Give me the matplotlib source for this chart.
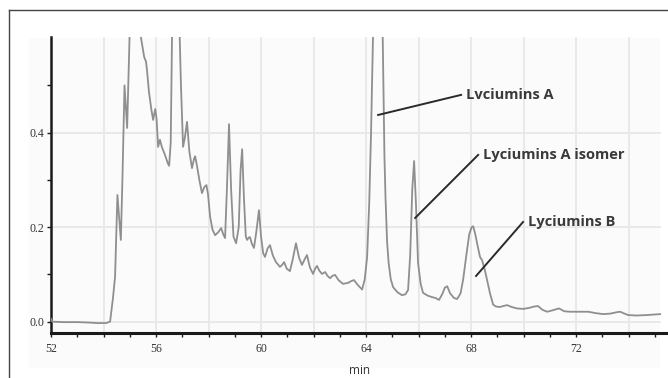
import matplotlib
matplotlib.use("Agg")
import matplotlib.pyplot as plt
from matplotlib.patches import Rectangle
from matplotlib.ticker import MultipleLocator, FixedLocator

# retention time (min) and detector response
rt = [52.0, 52.05, 52.5, 53.0, 53.5, 53.75, 54.1, 54.25, 54.36, 54.44,
      54.53, 54.66, 54.72, 54.8, 54.9, 55.0, 55.2, 55.43, 55.55, 55.62,
      55.66, 55.73, 55.82, 55.89, 55.97, 56.02, 56.08, 56.15, 56.22, 56.34,
      56.45, 56.5, 56.56, 56.62, 56.75, 56.88, 56.95, 57.03, 57.1, 57.18,
      57.27, 57.37, 57.45, 57.49, 57.56, 57.65, 57.75, 57.84, 57.92, 57.98,
      58.06, 58.15, 58.25, 58.38, 58.48, 58.56, 58.63, 58.7, 58.78, 58.86,
      58.95, 59.05, 59.15, 59.22, 59.28, 59.35, 59.42, 59.47, 59.53, 59.58,
      59.65, 59.73, 59.82, 59.92, 60.0, 60.08, 60.15, 60.25, 60.34, 60.45,
      60.57, 60.72, 60.8, 60.88, 60.98, 61.1, 61.2, 61.33, 61.45, 61.56,
      61.66, 61.75, 61.86, 61.98, 62.06, 62.13, 62.22, 62.32, 62.44, 62.53,
      62.63, 62.72, 62.82, 62.95, 63.12, 63.31, 63.44, 63.54, 63.68, 63.85,
      63.95, 64.04, 64.12, 64.19, 64.27, 64.45, 64.63, 64.7, 64.74, 64.8,
      64.86, 64.94, 65.03, 65.2, 65.37, 65.5, 65.6, 65.68, 65.76, 65.83,
      65.9, 65.98, 66.08, 66.17, 66.35, 66.51, 66.65, 66.78, 66.9, 67.0,
      67.09, 67.2, 67.35, 67.47, 67.6, 67.7, 67.81, 67.93, 68.02, 68.08,
      68.16, 68.25, 68.34, 68.42, 68.52, 68.61, 68.72, 68.84, 68.95, 69.1,
      69.22, 69.37, 69.55, 69.75, 69.98, 70.2, 70.4, 70.55, 70.72, 70.9,
      71.1, 71.35, 71.55, 71.77, 72.1, 72.46, 72.75, 73.03, 73.3, 73.55,
      73.68, 73.8, 73.98, 74.3, 74.7, 75.2]
signal = [0.006, 0.0, -0.001, -0.001, -0.002, -0.003, -0.003, 0.0, 0.05, 0.095,
          0.268, 0.173, 0.3, 0.50, 0.41, 0.62, 0.75, 0.60, 0.56, 0.55,
          0.53, 0.487, 0.45, 0.427, 0.45, 0.43, 0.37, 0.385, 0.37, 0.353,
          0.335, 0.33, 0.38, 0.65, 1.0, 0.65, 0.5, 0.37, 0.39, 0.423,
          0.36, 0.325, 0.345, 0.35, 0.33, 0.3, 0.272, 0.285, 0.289, 0.27,
          0.222, 0.195, 0.183, 0.19, 0.198, 0.185, 0.177, 0.28, 0.418, 0.28,
          0.18, 0.166, 0.2, 0.32, 0.365, 0.26, 0.18, 0.173, 0.178, 0.179,
          0.165, 0.156, 0.19, 0.236, 0.18, 0.145, 0.137, 0.155, 0.162, 0.14,
          0.126, 0.116, 0.12, 0.126, 0.112, 0.107, 0.13, 0.166, 0.135, 0.12,
          0.132, 0.141, 0.115, 0.101, 0.112, 0.118, 0.108, 0.101, 0.105, 0.097,
          0.092, 0.097, 0.099, 0.088, 0.08, 0.082, 0.086, 0.088, 0.078, 0.068,
          0.09, 0.137, 0.25, 0.4, 0.62, 1.3, 0.62, 0.35, 0.264, 0.17,
          0.124, 0.09, 0.073, 0.062, 0.056, 0.058, 0.067, 0.14, 0.28, 0.34,
          0.25, 0.124, 0.08, 0.061, 0.055, 0.052, 0.05, 0.046, 0.058, 0.072,
          0.075, 0.06, 0.05, 0.048, 0.06, 0.09, 0.137, 0.185, 0.2, 0.202,
          0.185, 0.16, 0.137, 0.13, 0.11, 0.088, 0.06, 0.036, 0.032, 0.031,
          0.033, 0.035, 0.031, 0.028, 0.027, 0.029, 0.032, 0.033, 0.025, 0.021,
          0.024, 0.028, 0.022, 0.021, 0.021, 0.021, 0.018, 0.016, 0.017, 0.02,
          0.021, 0.018, 0.014, 0.013, 0.014, 0.016]

# peak labels: name, point on the trace, end of leader line
peak_names = ["Lvciumins A", "Lyciumins A isomer", "Lyciumins B"]
peak_points = [(64.46, 0.4375), (65.87, 0.2195), (68.19, 0.0967)]
label_points = [(67.62, 0.48), (68.27, 0.353), (69.98, 0.211)]

xticks_major = [52, 56, 60, 64, 68, 72]
yticks_major = [0.0, 0.2, 0.4]

W, H = 668, 378
fig = plt.figure(figsize=(W / 100, H / 100), dpi=100)
fig.patch.set_facecolor("white")

# faint panel behind the plot and the outer frame
fig.add_artist(Rectangle((29 / W, 1 - 368 / H), (660 - 29) / W, (368 - 38) / H,
                         transform=fig.transFigure, facecolor="#fbfbfb",
                         edgecolor="none", zorder=0))
fig.add_artist(plt.Line2D([9 / W, 1], [1 - 10 / H, 1 - 10 / H],
                          transform=fig.transFigure, color="#444444", lw=1.0))
fig.add_artist(plt.Line2D([9 / W, 9 / W], [0, 1 - 10 / H],
                          transform=fig.transFigure, color="#444444", lw=1.0))

ax = fig.add_axes([51 / W, 1 - 333 / H, (668 - 51) / W, (333 - 37) / H])
ax.set_facecolor("none")
ax.set_xlim(52, 75.5)
ax.set_ylim(-0.024, 0.6025)

for gx in range(54, 75, 2):
    ax.plot([gx, gx], [-0.024, 0.6025], color="#e8e8e8", lw=1.3, zorder=1)
for gy in yticks_major:
    ax.plot([52, 75.2], [gy, gy], color="#e8e8e8", lw=1.3, zorder=1)

ax.plot(rt, signal, color="#8f8f8f", lw=1.3, zorder=3)

for name, (px, py), (lx, ly) in zip(peak_names, peak_points, label_points):
    ax.plot([px, lx], [py, ly], color="#2a2a2a", lw=1.4, zorder=4)
    ax.text(lx + 0.2, ly, name, fontsize=10.5, family="Open Sans",
            fontweight="bold", color="#3a3a3a", va="center", ha="left",
            zorder=5)

for s in ["top", "right"]:
    ax.spines[s].set_visible(False)
ax.spines["left"].set_color("#1a1a1a")
ax.spines["left"].set_linewidth(1.8)
ax.spines["bottom"].set_color("#1a1a1a")
ax.spines["bottom"].set_linewidth(2.2)

ax.xaxis.set_major_locator(FixedLocator(xticks_major))
ax.xaxis.set_minor_locator(MultipleLocator(1))
ax.yaxis.set_major_locator(FixedLocator(yticks_major))
ax.yaxis.set_minor_locator(FixedLocator([0.1, 0.3, 0.5]))
ax.set_yticklabels(["0.0", "0.2", "0.4"])
ax.tick_params(which="both", direction="out", length=3, width=1,
               color="#1a1a1a", labelsize=8.5, labelcolor="#333333", pad=2)
ax.tick_params(axis="x", pad=4)
for lab in ax.get_xticklabels() + ax.get_yticklabels():
    lab.set_family("Liberation Serif")

ax.set_xlabel("min", fontsize=8.5, family="Open Sans", color="#333333", labelpad=7)

fig.savefig("out.png", dpi=100)
